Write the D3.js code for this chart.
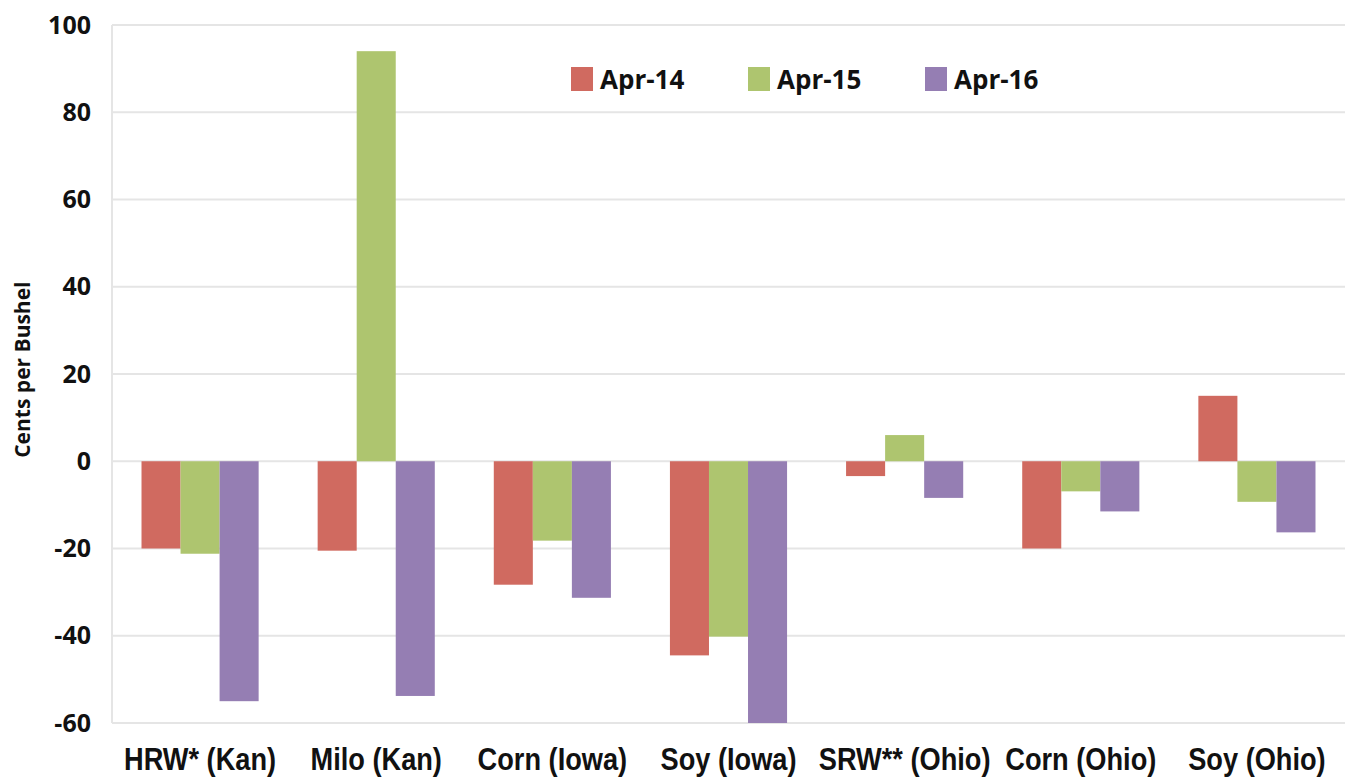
<!DOCTYPE html>
<html>
<head>
<meta charset="utf-8">
<script src="https://cdn.jsdelivr.net/npm/d3@7"></script>
<style>
  body { margin: 0; background: #fff; }
  svg { display: block; }
</style>
</head>
<body>
<div id="chart"></div>
<script>
// data
var categories = ['HRW* (Kan)', 'Milo (Kan)', 'Corn (Iowa)', 'Soy (Iowa)', 'SRW** (Ohio)', 'Corn (Ohio)', 'Soy (Ohio)'];
var seriesNames = ['Apr-14', 'Apr-15', 'Apr-16'];
var apr14 = [-20, -20.5, -28.3, -44.5, -3.4, -20, 15];
var apr15 = [-21.2, 94, -18.2, -40.2, 6, -6.9, -9.3];
var apr16 = [-55, -53.8, -31.3, -60, -8.4, -11.5, -16.3];
var yTicks = [-60, -40, -20, 0, 20, 40, 60, 80, 100];
var colors = ['#d06a60', '#aec56f', '#957eb3'];

var series = [apr14, apr15, apr16];

var width = 1357, height = 780;
var margin = { top: 25, right: 12, bottom: 57, left: 112 };
var innerW = width - margin.left - margin.right,
    innerH = height - margin.top - margin.bottom;

var svg = d3.select('#chart').append('svg')
    .attr('width', width)
    .attr('height', height);

var g = svg.append('g')
    .attr('transform', 'translate(' + margin.left + ',' + margin.top + ')');

var x = d3.scaleBand()
    .domain(categories)
    .range([0, innerW])
    .paddingInner(0.335)
    .paddingOuter(0.1675);

var x1 = d3.scaleBand()
    .domain(seriesNames)
    .range([0, x.bandwidth()]);

var y = d3.scaleLinear()
    .domain([-60, 100])
    .range([innerH, 0]);

// gridlines
g.append('g')
    .selectAll('line')
    .data(yTicks)
    .enter()
    .append('line')
    .attr('x1', 0)
    .attr('x2', innerW)
    .attr('y1', function (d) { return y(d); })
    .attr('y2', function (d) { return y(d); })
    .attr('stroke', '#e5e5e5')
    .attr('stroke-width', 2);

// left axis line
g.append('line')
    .attr('x1', 0).attr('x2', 0)
    .attr('y1', 0).attr('y2', innerH)
    .attr('stroke', '#e5e5e5')
    .attr('stroke-width', 2);

// bars
series.forEach(function (vals, si) {
    g.append('g')
        .selectAll('rect')
        .data(vals)
        .enter()
        .append('rect')
        .attr('x', function (d, i) { return x(categories[i]) + x1(seriesNames[si]); })
        .attr('width', x1.bandwidth())
        .attr('y', function (d) { return y(Math.max(0, d)); })
        .attr('height', function (d) { return Math.abs(y(d) - y(0)); })
        .attr('fill', colors[si]);
});

// y axis labels (plain hyphen for negatives, like the original)
var yAxis = g.append('g')
    .call(d3.axisLeft(y).tickValues(yTicks).tickSize(0).tickPadding(21)
        .tickFormat(function (d) { return String(d); }));
yAxis.select('.domain').remove();
yAxis.selectAll('text')
    .style('font-family', '"Open Sans", "Liberation Sans", sans-serif')
    .style('font-weight', 'bold')
    .style('font-size', '25px')
    .attr('fill', '#111');

// x axis labels, condensed
var xAxis = g.append('g')
    .attr('transform', 'translate(0,' + innerH + ')')
    .call(d3.axisBottom(x).tickSize(0).tickPadding(24));
xAxis.select('.domain').remove();
xAxis.selectAll('text')
    .style('font-family', '"Liberation Sans", sans-serif')
    .style('font-weight', 'bold')
    .style('font-size', '32px')
    .attr('transform', 'scale(0.85,1)')
    .attr('fill', '#111');

// y title
svg.append('text')
    .attr('transform', 'translate(30,' + (margin.top + y(21)) + ') rotate(-90)')
    .attr('text-anchor', 'middle')
    .style('font-family', '"Open Sans", "Liberation Sans", sans-serif')
    .style('font-weight', 'bold')
    .style('font-size', '21px')
    .attr('fill', '#111')
    .text('Cents per Bushel');

// legend
var legend = svg.append('g')
    .attr('transform', 'translate(571,67)');
var item = legend.selectAll('g')
    .data(seriesNames)
    .enter()
    .append('g')
    .attr('transform', function (d, i) { return 'translate(' + (i * 177) + ',0)'; });
item.append('rect')
    .attr('width', 22)
    .attr('height', 24)
    .attr('fill', function (d, i) { return colors[i]; });
item.append('text')
    .attr('x', 29)
    .attr('y', 22)
    .style('font-family', '"Open Sans", "Liberation Sans", sans-serif')
    .style('font-weight', 'bold')
    .style('font-size', '26px')
    .attr('fill', '#111')
    .text(function (d) { return d; });
</script>
</body>
</html>
